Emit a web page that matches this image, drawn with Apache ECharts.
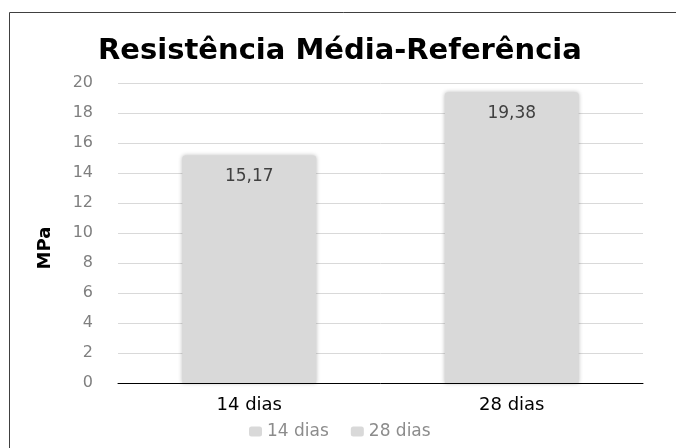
<!DOCTYPE html>
<html>
<head>
<meta charset="utf-8">
<script src="https://cdn.jsdelivr.net/npm/echarts@6/dist/echarts.min.js"></script>
<style>
  html, body { margin: 0; padding: 0; background: #fff; }
  #chart { width: 676px; height: 448px; }
</style>
</head>
<body>
<div id="chart"></div>
<script>
(function () {
  'use strict';
  var categories = ['14 dias', '28 dias'];
  var values = [15.17, 19.38];
  var yTicks = { min: 0, max: 20, interval: 2 };

  var font = 'DejaVu Sans';
  var myChart = echarts.init(document.getElementById('chart'));

  // one series per category so the legend lists each one
  var series = categories.map(function (name, i) {
    var data = categories.map(function (c, j) { return j === i ? values[i] : '-'; });
    return {
      name: name,
      type: 'bar',
      stack: 'all',
      barWidth: '51%',
      data: data,
      itemStyle: {
        color: '#d9d9d9',
        borderRadius: [3, 3, 0, 0],
        shadowBlur: 4,
        shadowColor: 'rgba(0,0,0,0.28)'
      },
      label: {
        show: true,
        position: 'insideTop',
        distance: 13,
        color: '#404040',
        fontFamily: font,
        fontSize: 17,
        formatter: function (p) { return p.value.toFixed(2).replace('.', ','); }
      }
    };
  });

  var option = {
    animation: false,
    backgroundColor: '#fff',
    title: {
      text: 'Resistência Média-Referência',
      left: 93,
      top: 32,
      textStyle: { fontFamily: font, fontWeight: 'bold', fontSize: 29, color: '#000' }
    },
    legend: {
      data: categories,
      bottom: 3,
      left: 244,
      itemWidth: 13,
      itemHeight: 10,
      itemGap: 22,
      textStyle: { fontFamily: font, fontSize: 17, color: '#8c8c8c' }
    },
    grid: { left: 118, right: 33, top: 83, bottom: 65, containLabel: false },
    xAxis: {
      type: 'category',
      data: categories,
      axisLine: { lineStyle: { color: '#000', width: 1 } },
      axisTick: { show: false },
      axisLabel: { color: '#000', fontFamily: font, fontSize: 18, margin: 13 }
    },
    yAxis: {
      type: 'value',
      min: yTicks.min,
      max: yTicks.max,
      interval: yTicks.interval,
      name: 'MPa',
      nameLocation: 'middle',
      nameGap: 64,
      nameTextStyle: { fontFamily: font, fontWeight: 'bold', fontSize: 18, color: '#000', padding: [0, 30, 0, 0] },
      axisLine: { show: false },
      axisTick: { show: false },
      axisLabel: { color: '#7f7f7f', fontFamily: font, fontSize: 16, margin: 25 },
      splitLine: { lineStyle: { color: '#d9d9d9', width: 1 } }
    },
    graphic: [{
      type: 'rect',
      shape: { x: 9.5, y: 12.5, width: 700, height: 500 },
      style: { fill: 'none', stroke: '#404040', lineWidth: 1 },
      silent: true
    }],
    series: series
  };

  myChart.setOption(option);
  window.addEventListener('resize', function () {
    myChart.resize();
  });
})();
</script>
</body>
</html>
